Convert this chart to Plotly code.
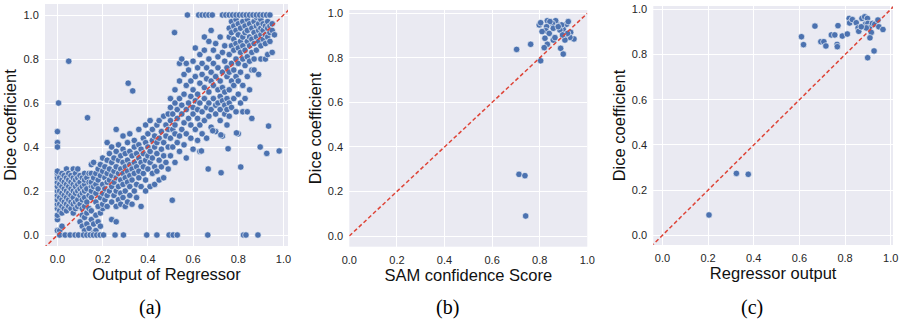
import plotly.graph_objects as go

# ---------------- Panel (a): Output of Regressor vs Dice (many samples) ----------------
# columns of points: (x value, [dice values at that x])
a_low_cluster = [
    (0.00, [0.02, 0.07, 0.09, 0.12, 0.14, 0.16, 0.18, 0.20, 0.22, 0.24, 0.26, 0.28, 0.29]),
    (0.01, [0.02, 0.11, 0.14, 0.17, 0.20, 0.23, 0.26]),
    (0.02, [0.04, 0.10, 0.13, 0.16, 0.19, 0.22, 0.25, 0.28]),
    (0.03, [0.12, 0.15, 0.18, 0.21, 0.24, 0.27]),
    (0.04, [0.11, 0.14, 0.17, 0.20, 0.23, 0.26, 0.30]),
    (0.05, [0.13, 0.16, 0.19, 0.22, 0.25, 0.28]),
    (0.06, [0.12, 0.15, 0.18, 0.21, 0.24, 0.27]),
    (0.07, [0.10, 0.14, 0.17, 0.20, 0.23, 0.26, 0.30]),
    (0.08, [0.12, 0.15, 0.19, 0.22, 0.25, 0.28]),
    (0.09, [0.13, 0.16, 0.20, 0.23, 0.26, 0.30]),
    (0.10, [0.14, 0.18, 0.21, 0.24, 0.27]),
    (0.11, [0.12, 0.16, 0.19, 0.22, 0.26]),
    (0.12, [0.13, 0.17, 0.20, 0.23, 0.25, 0.28]),
    (0.13, [0.15, 0.21, 0.26]),
    (0.14, [0.18, 0.24, 0.28]),
    (0.15, [0.22]),
    (0.16, [0.19]),
]
a_pocket = [
    (0.10, [0.06]), (0.11, [0.04, 0.09]), (0.12, [0.02, 0.08]), (0.13, [0.05, 0.10]),
    (0.14, [0.03, 0.12]), (0.15, [0.07, 0.11]), (0.16, [0.01, 0.05]), (0.17, [0.02, 0.09]),
    (0.18, [0.06, 0.13]), (0.19, [0.04, 0.10]), (0.20, [0.12]), (0.24, [0.07]), (0.26, [0.06]),
]
a_zero_row = [0.01, 0.034, 0.056, 0.078, 0.093, 0.115, 0.13, 0.145, 0.159, 0.174, 0.189,
              0.204, 0.255, 0.292, 0.395, 0.44, 0.494, 0.512, 0.53, 0.665, 0.823, 0.834, 0.887]
a_diag = [
    (0.15, [0.17, 0.20, 0.24, 0.28, 0.32]), (0.16, [0.22, 0.26, 0.33]),
    (0.17, [0.15, 0.19, 0.23, 0.28]), (0.18, [0.13, 0.21, 0.25, 0.30]),
    (0.19, [0.17, 0.27, 0.32]), (0.20, [0.14, 0.19, 0.23, 0.29, 0.35]),
    (0.21, [0.16, 0.21, 0.26, 0.31]), (0.22, [0.13, 0.18, 0.24, 0.28, 0.34, 0.42]),
    (0.23, [0.20, 0.25, 0.30, 0.37]), (0.24, [0.15, 0.22, 0.27, 0.33, 0.40]),
    (0.25, [0.18, 0.24, 0.29, 0.35]), (0.26, [0.13, 0.20, 0.26, 0.31, 0.38, 0.48]),
    (0.27, [0.16, 0.22, 0.28, 0.34, 0.41]), (0.28, [0.14, 0.19, 0.25, 0.30, 0.36]),
    (0.29, [0.17, 0.23, 0.28, 0.33, 0.39, 0.45]), (0.30, [0.13, 0.20, 0.26, 0.31, 0.37]),
    (0.31, [0.15, 0.24, 0.29, 0.34, 0.42]), (0.32, [0.18, 0.22, 0.27, 0.32, 0.38, 0.46]),
    (0.33, [0.14, 0.25, 0.30, 0.36]), (0.34, [0.20, 0.28, 0.33, 0.40, 0.43]),
    (0.35, [0.17, 0.23, 0.31, 0.37]), (0.36, [0.26, 0.29, 0.35, 0.41, 0.48]),
    (0.37, [0.13, 0.22, 0.33, 0.39]), (0.38, [0.28, 0.31, 0.37, 0.44]),
    (0.39, [0.20, 0.25, 0.34, 0.42, 0.50]), (0.40, [0.30, 0.36, 0.40, 0.46]),
    (0.41, [0.22, 0.33, 0.38, 0.52]), (0.42, [0.28, 0.35, 0.43, 0.48]),
    (0.43, [0.23, 0.31, 0.40, 0.45]), (0.44, [0.29, 0.37, 0.42, 0.50]),
    (0.45, [0.25, 0.34, 0.44, 0.52]), (0.46, [0.31, 0.39, 0.47]),
    (0.47, [0.26, 0.36, 0.42, 0.54]), (0.48, [0.33, 0.45, 0.50]),
    (0.49, [0.30, 0.40, 0.48, 0.55]),
]
a_mid = [
    (0.50, [0.36, 0.44, 0.52, 0.58, 0.62]), (0.51, [0.40, 0.48, 0.55]),
    (0.52, [0.33, 0.46, 0.50, 0.60, 0.66]), (0.53, [0.42, 0.53, 0.57]),
    (0.54, [0.38, 0.45, 0.62, 0.70, 0.78]), (0.55, [0.48, 0.55, 0.59, 0.80]),
    (0.56, [0.41, 0.51, 0.64, 0.73]), (0.57, [0.35, 0.46, 0.57, 0.68, 0.78]),
    (0.58, [0.53, 0.60, 0.75]), (0.59, [0.44, 0.50, 0.63, 0.70]),
    (0.60, [0.39, 0.55, 0.58, 0.66, 0.79]), (0.61, [0.48, 0.61, 0.72, 0.85]),
    (0.62, [0.43, 0.53, 0.57, 0.64, 0.76]), (0.63, [0.38, 0.50, 0.60, 0.69, 0.82]),
    (0.64, [0.46, 0.56, 0.73, 0.78]), (0.65, [0.52, 0.62, 0.67, 0.84, 0.90]),
    (0.66, [0.44, 0.58, 0.71, 0.76]), (0.67, [0.54, 0.60, 0.65, 0.80, 0.88]),
    (0.68, [0.49, 0.57, 0.70, 0.74, 0.93]), (0.69, [0.62, 0.68, 0.78, 0.84]),
    (0.70, [0.47, 0.55, 0.59, 0.72, 0.87]), (0.71, [0.60, 0.66, 0.76, 0.81]),
    (0.72, [0.52, 0.57, 0.63, 0.70, 0.90]), (0.73, [0.45, 0.61, 0.67, 0.74, 0.83]),
    (0.74, [0.55, 0.59, 0.65, 0.79, 0.86]), (0.75, [0.50, 0.57, 0.62, 0.72, 0.76]),
]
a_top = [
    (0.76, [0.54, 0.60, 0.66, 0.74, 0.82, 0.90, 0.94]), (0.77, [0.58, 0.70, 0.78, 0.86, 0.92, 0.97]),
    (0.78, [0.62, 0.68, 0.75, 0.84, 0.89, 0.95]), (0.79, [0.56, 0.72, 0.80, 0.87, 0.93, 0.98]),
    (0.80, [0.46, 0.64, 0.70, 0.78, 0.85, 0.91, 0.96]), (0.81, [0.60, 0.74, 0.83, 0.88, 0.94]),
    (0.82, [0.56, 0.68, 0.80, 0.86, 0.90, 0.97]), (0.83, [0.62, 0.77, 0.84, 0.92, 0.95]),
    (0.84, [0.56, 0.72, 0.81, 0.88, 0.93, 0.98]), (0.85, [0.66, 0.79, 0.86, 0.90, 0.96]),
    (0.86, [0.53, 0.75, 0.83, 0.89, 0.94]), (0.87, [0.75, 0.80, 0.87, 0.92, 0.97]),
    (0.88, [0.84, 0.90, 0.95, 0.99]), (0.89, [0.73, 0.88, 0.93, 0.96]),
    (0.90, [0.80, 0.86, 0.91, 0.94, 0.98]), (0.91, [0.89, 0.93, 0.96]),
    (0.92, [0.80, 0.87, 0.91, 0.95]), (0.93, [0.82, 0.90, 0.94, 0.97]),
    (0.94, [0.88, 0.92, 0.95]), (0.95, [0.83, 0.93, 0.96]), (0.96, [0.91]),
]
a_one_row = [0.575, 0.625, 0.64, 0.655, 0.67, 0.685, 0.73, 0.745, 0.76, 0.775, 0.79,
             0.805, 0.82, 0.835, 0.85, 0.865, 0.88, 0.895, 0.91, 0.925, 0.94]
a_outlier_x = [0.05, 0.005, 0.0, 0.0, 0.0, 0.133, 0.313, 0.333, 0.518, 0.508, 0.637, 0.667,
               0.724, 0.755, 0.811, 0.897, 0.926, 0.981, 0.934, 0.792, 0.687, 0.723]
a_outlier_y = [0.79, 0.60, 0.47, 0.42, 0.40, 0.533, 0.69, 0.655, 0.92, 0.158, 0.382, 0.30,
               0.283, 0.392, 0.309, 0.40, 0.371, 0.382, 0.495, 0.464, 0.474, 0.455]

# ---------------- Panel (b): SAM confidence score vs Dice ----------------
sam_conf = [0.913, 0.920, 0.930, 0.944, 0.927, 0.909, 0.899, 0.892, 0.871, 0.867, 0.853,
            0.832, 0.843, 0.829, 0.826, 0.840, 0.822, 0.832, 0.819, 0.810, 0.804, 0.857,
            0.864, 0.885, 0.888, 0.899, 0.906, 0.917, 0.896, 0.798, 0.804, 0.857, 0.878,
            0.762, 0.703, 0.713, 0.738, 0.741]
sam_dice = [0.951, 0.963, 0.915, 0.885, 0.892, 0.903, 0.928, 0.948, 0.955, 0.967, 0.955,
            0.967, 0.963, 0.940, 0.922, 0.910, 0.888, 0.861, 0.846, 0.918, 0.787, 0.880,
            0.891, 0.925, 0.843, 0.817, 0.880, 0.910, 0.903, 0.948, 0.958, 0.933, 0.940,
            0.861, 0.838, 0.277, 0.271, 0.090]

# ---------------- Panel (c): Regressor output vs Dice ----------------
reg_out = [0.609, 0.618, 0.668, 0.694, 0.707, 0.716, 0.740, 0.755, 0.769, 0.765, 0.766,
           0.788, 0.810, 0.818, 0.820, 0.832, 0.849, 0.857, 0.860, 0.874, 0.886, 0.898,
           0.890, 0.900, 0.907, 0.915, 0.920, 0.930, 0.944, 0.948, 0.966, 0.893, 0.909,
           0.927, 0.899, 0.871, 0.204, 0.324, 0.376]
reg_dice = [0.879, 0.844, 0.926, 0.857, 0.857, 0.838, 0.887, 0.887, 0.928, 0.845, 0.835,
            0.882, 0.891, 0.960, 0.940, 0.955, 0.941, 0.918, 0.903, 0.960, 0.967, 0.960,
            0.935, 0.938, 0.920, 0.898, 0.938, 0.934, 0.953, 0.923, 0.911, 0.918, 0.874,
            0.816, 0.786, 0.923, 0.090, 0.274, 0.270]

tick_vals = [0.0, 0.2, 0.4, 0.6, 0.8, 1.0]
tick_text = ["0.0", "0.2", "0.4", "0.6", "0.8", "1.0"]
x_titles = ["Output of Regressor", "SAM confidence Score", "Regressor output"]
y_title = "Dice coefficient"
panel_labels = ["(a)", "(b)", "(c)"]

# ---- expand panel (a) columns ----
ax_vals, ay_vals = [], []
for group in (a_low_cluster, a_pocket, a_diag, a_mid, a_top):
    for xv, ys in group:
        for yv in ys:
            ax_vals.append(xv)
            ay_vals.append(yv)
ax_vals += a_zero_row
ay_vals += [0.0] * len(a_zero_row)
ax_vals += a_one_row
ay_vals += [1.0] * len(a_one_row)
ax_vals += a_outlier_x
ay_vals += a_outlier_y

BLUE = "#4C72B0"
RED = "#DE4437"
marker = dict(color=BLUE, size=6.5, line=dict(color="white", width=0.6))

fig = go.Figure()
datasets = [(ax_vals, ay_vals), (sam_conf, sam_dice), (reg_out, reg_dice)]
diag_ranges = [[-0.06, 1.06], [0.0, 1.0], [-0.05, 1.02]]
for i, ((xs, ys), dr) in enumerate(zip(datasets, diag_ranges)):
    suffix = "" if i == 0 else str(i + 1)
    fig.add_trace(go.Scatter(x=xs, y=ys, mode="markers", marker=marker,
                             xaxis="x" + suffix, yaxis="y" + suffix, showlegend=False,
                             cliponaxis=True))
    fig.add_trace(go.Scatter(x=dr, y=dr, mode="lines",
                             line=dict(color=RED, width=1.5, dash="4px,2.5px"),
                             xaxis="x" + suffix, yaxis="y" + suffix, showlegend=False))

W, H = 901, 328
# plot areas in pixels: (left, right, top, bottom)
areas = [(45, 288, 4, 246), (349.3, 587.3, 10, 246.7), (653.3, 893, 6, 245)]
x_ranges = [[-0.055, 1.02], [0.0, 1.0], [-0.04, 1.01]]
y_ranges = [[-0.05, 1.05], [-0.048, 1.015], [-0.043, 1.015]]

tickfont = dict(family="Liberation Sans, Arial, sans-serif", size=11, color="#262626")
titlefont = dict(family="Liberation Sans, Arial, sans-serif", size=16.5, color="#111111")

layout = dict(
    width=W, height=H, margin=dict(l=0, r=0, t=0, b=0),
    paper_bgcolor="white", plot_bgcolor="#EAEAF2", template="none",
    showlegend=False,
)
for i, ((l, r, t, b), xr, yr) in enumerate(zip(areas, x_ranges, y_ranges)):
    suffix = "" if i == 0 else str(i + 1)
    common = dict(showgrid=True, gridcolor="white", gridwidth=1.3, zeroline=False,
                  showline=False, ticks="outside", ticklen=3, tickcolor="rgba(0,0,0,0)",
                  tickvals=tick_vals, ticktext=tick_text, tickfont=tickfont)
    layout["xaxis" + suffix] = dict(common, domain=[l / W, r / W], range=xr,
                                    anchor="y" + suffix,
                                    title=dict(text=x_titles[i], font=titlefont, standoff=2))
    layout["yaxis" + suffix] = dict(common, domain=[1 - b / H, 1 - t / H], range=yr,
                                    anchor="x" + suffix,
                                    title=dict(text=y_title, font=titlefont, standoff=2))

fig.update_layout(**layout)

label_x = [150, 447, 752]
for lx, txt in zip(label_x, panel_labels):
    fig.add_annotation(x=lx / W, y=1 - 307 / H, xref="paper", yref="paper",
                       text=txt, showarrow=False, xanchor="center", yanchor="middle",
                       font=dict(family="Liberation Serif, DejaVu Serif, serif", size=20,
                                 color="black"))

fig.write_html("out.html",
               config={"displayModeBar": False},
               post_script="document.body.style.margin='0px';"
                           "document.body.style.overflow='hidden';")
